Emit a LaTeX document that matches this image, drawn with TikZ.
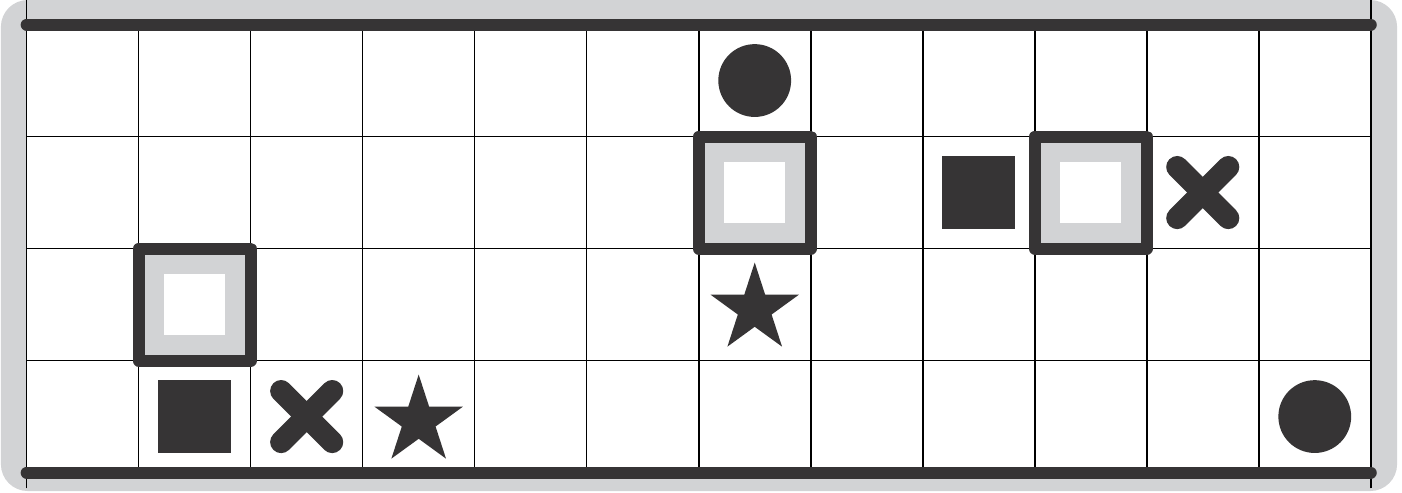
\documentclass[tikz,border=0pt]{standalone}
\usetikzlibrary{calc}
\definecolor{ink}{RGB}{54,52,53}
\definecolor{rimgray}{RGB}{210,211,213}

\begin{document}
\begin{tikzpicture}[
    gridline/.style={black, line width=0.4pt},
    railbar/.style={ink, line width=3.05pt, line cap=round},
    ringcell/.style={draw=ink, fill=rimgray, line width=3.05pt, line join=round},
    crossline/.style={ink, line width=5.6pt, line cap=round}
]
\useasboundingbox (-0.238,-0.179) rectangle (12.279,4.219);

% ============================================================
% RAHMEN UND GITTER
% ============================================================
\fill[rimgray, rounded corners=0.24cm] (-0.23,-0.165) rectangle (12.235,4.219);
\fill[white] (0,0) rectangle (12,4);

\foreach \c in {1,...,11}
    \draw[gridline] (\c,0) -- (\c,4);
\foreach \r in {1,2,3}
    \draw[gridline] (0,\r) -- (12,\r);
\draw[gridline] (0,-0.14) -- (0,4.219);
\draw[gridline] (12,-0.14) -- (12,4.219);

\draw[railbar] (0,4) -- (12,4);
\draw[railbar] (0,0) -- (12,0);

% ============================================================
% MARKIERTE FELDER
% ============================================================
\foreach \c/\r in {6/2, 9/2, 1/1} {
    \draw[ringcell] (\c,\r) rectangle ++(1,1);
    \fill[white] (\c+0.2275,\r+0.2275) rectangle ++(0.545,0.545);
}

% ============================================================
% SYMBOLE
% ============================================================
\foreach \c/\r in {1/0, 8/2}
    \fill[ink] (\c+0.174,\r+0.174) rectangle ++(0.652,0.652);

\foreach \c/\r in {6/3, 11/0}
    \fill[ink] (\c+0.5,\r+0.5) circle (0.325);

\foreach \c/\r in {2/0, 10/2} {
    \draw[crossline] (\c+0.272,\r+0.272) -- ++(0.456,0.456);
    \draw[crossline] (\c+0.272,\r+0.728) -- ++(0.456,-0.456);
}

\foreach \c/\r in {3/0, 6/1}
    \fill[ink, shift={(\c+0.5,\r+0.46)}] (90:0.415)
        \foreach \k in {0,...,4} { -- ({90+72*\k}:0.415) -- ({126+72*\k}:0.1585) } -- cycle;

\end{tikzpicture}
\end{document}
